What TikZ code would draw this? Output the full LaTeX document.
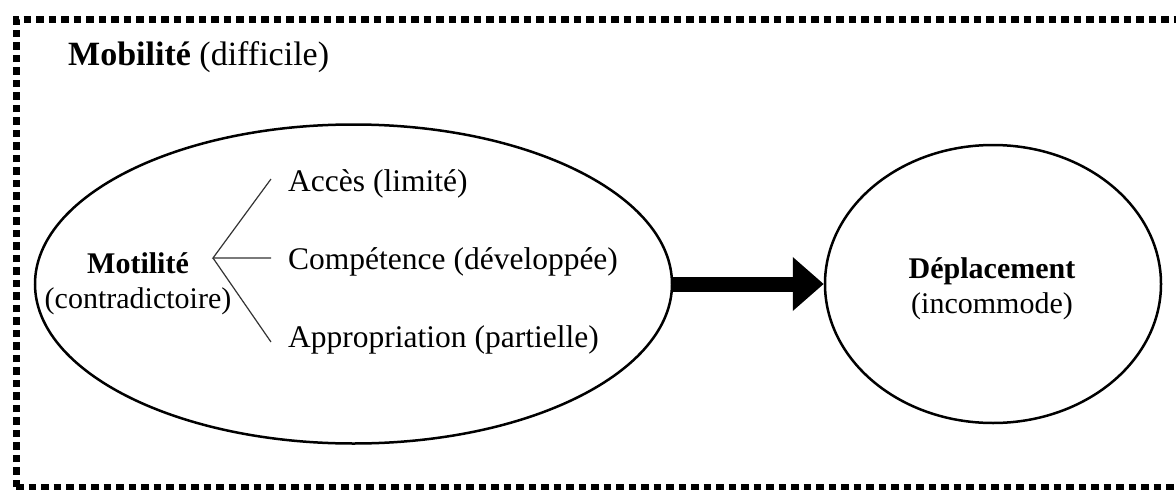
\documentclass[tikz,border=0pt]{standalone}
\usepackage{fontspec}
\setmainfont{Liberation Serif}
\usetikzlibrary{shapes.geometric,arrows.meta,calc}
\begin{document}
\begin{tikzpicture}[x=1pt,y=-1pt,
  every node/.style={font=\fontsize{30}{35}\selectfont},
  ell/.style={draw, ellipse, line width=2.5pt, inner sep=0pt},
  frame/.style={draw, line width=7pt, dash pattern=on 7.5pt off 5pt},
  branch/.style={draw=black!80, line width=1.2pt},
  bigarrow/.style={line width=15pt, -{Triangle[length=31pt,width=52pt]}},
  lbl/.style={anchor=west, inner xsep=17pt, inner ysep=0pt, font=\fontsize{31.5}{36}\selectfont}]
\useasboundingbox (0,0) rectangle (1176,490);
\draw[frame] (16,487) -- (16,19.5) -- (1200,19.5);
\draw[frame] (16,487) -- (1200,487);
\node[anchor=base west, inner sep=0pt, font=\fontsize{34}{40}\selectfont] (title) at (68,65) {\textbf{Mobilité} (difficile)};
\node[ell, minimum width=637pt, minimum height=319pt] (L) at (353.5,284) {};
\node[ell, minimum width=336pt, minimum height=278pt] (R) at (993,284) {};
\node[align=center, inner sep=0pt] (mot) at (138,283.5) {\textbf{Motilité}\\(contradictoire)};
\node[align=center, inner sep=0pt] (dep) at (992,288.5) {\textbf{Déplacement}\\(incommode)};
\coordinate (fork) at (213,258);
\node[lbl] (acces) at (271,184) {Accès (limité)};
\node[lbl] (comp) at (271,262) {Compétence (développée)};
\node[lbl] (appro) at (271,340) {Appropriation (partielle)};
\draw[branch] ($(acces.west)+(0,-5)$) -- (fork) -- ($(comp.west)+(0,-4)$);
\draw[branch] (fork) -- ($(appro.west)+(0,2)$);
\draw[bigarrow] (L.east) -- (R.west);
\end{tikzpicture}
\end{document}
